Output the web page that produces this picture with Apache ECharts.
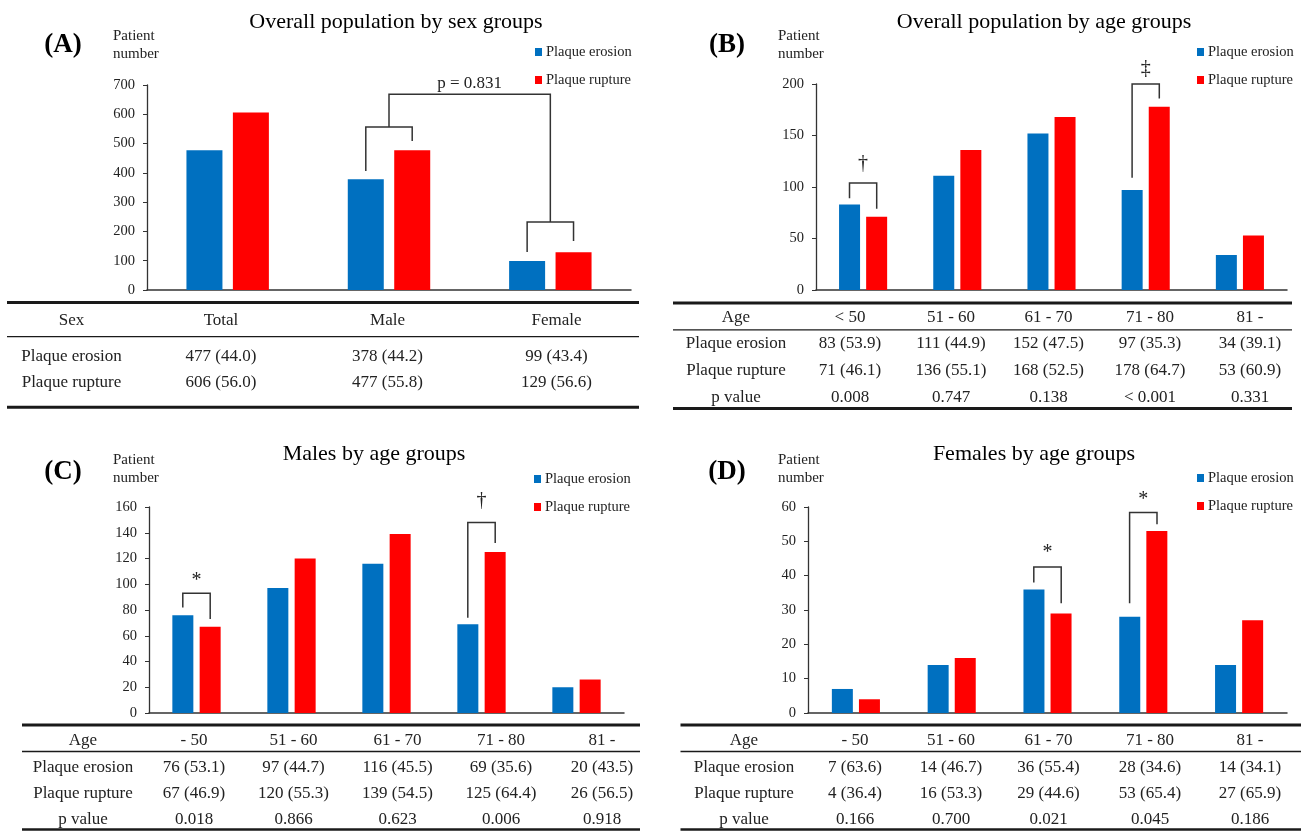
<!DOCTYPE html>
<html><head><meta charset="utf-8">
<script src="https://cdn.jsdelivr.net/npm/echarts@6.0.0/dist/echarts.min.js"></script>
<style>html,body{margin:0;padding:0;background:#fff}#c{width:1306px;height:831px}</style>
</head><body><div id="c"></div>
<script>
// ---------- DATA ----------
const seriesNames = ['Plaque erosion', 'Plaque rupture'];

// (A) overall population by sex
const sexCategories = ['Total', 'Male', 'Female'];
const sexErosion = [477, 378, 99];
const sexRupture = [606, 477, 129];
const sexErosionPct = ['44.0', '44.2', '43.4'];
const sexRupturePct = ['56.0', '55.8', '56.6'];
const sexYTicks = [0, 700, 100];

// (B) overall population by age
const ageCatsB = ['< 50', '51 - 60', '61 - 70', '71 - 80', '81 -'];
const ageErosionB = [83, 111, 152, 97, 34];
const ageRuptureB = [71, 136, 168, 178, 53];
const agePctErosionB = ['53.9', '44.9', '47.5', '35.3', '39.1'];
const agePctRuptureB = ['46.1', '55.1', '52.5', '64.7', '60.9'];
const agePB = ['0.008', '0.747', '0.138', '< 0.001', '0.331'];
const yTicksB = [0, 200, 50];

// (C) males by age
const ageCatsC = ['- 50', '51 - 60', '61 - 70', '71 - 80', '81 -'];
const ageErosionC = [76, 97, 116, 69, 20];
const ageRuptureC = [67, 120, 139, 125, 26];
const agePctErosionC = ['53.1', '44.7', '45.5', '35.6', '43.5'];
const agePctRuptureC = ['46.9', '55.3', '54.5', '64.4', '56.5'];
const agePC = ['0.018', '0.866', '0.623', '0.006', '0.918'];
const yTicksC = [0, 160, 20];

// (D) females by age
const ageCatsD = ['- 50', '51 - 60', '61 - 70', '71 - 80', '81 -'];
const ageErosionD = [7, 14, 36, 28, 14];
const ageRuptureD = [4, 16, 29, 53, 27];
const agePctErosionD = ['63.6', '46.7', '55.4', '34.6', '34.1'];
const agePctRuptureD = ['36.4', '53.3', '44.6', '65.4', '65.9'];
const agePD = ['0.166', '0.700', '0.021', '0.045', '0.186'];
const yTicksD = [0, 60, 10];

// brackets: [cat1, side1, startValue, topValue, cat2, side2, endValue]
const bracketsA = [[1, -1, 406, 557, 1, 1, 509], [2, -1, 130, 232, 2, 1, 167], [1, 0, 557, 668, 2, 0, 232]];
const bracketsB = [[0, -1, 89, 104, 0, 1, 79], [3, -1, 109, 200, 3, 1, 186]];
const bracketsC = [[0, -1, 82, 93, 0, 1, 73], [3, -1, 74, 148, 3, 1, 132]];
const bracketsD = [[2, -1, 38, 42.5, 2, 1, 32], [3, -1, 32, 58.4, 3, 1, 55]];
// significance marks: [cat, value, shiftInBands]
const marksA = [[1, 705, 0.5]];
const marksAText = ['p = 0.831'];
const marksB = [[0, 123, 0], [3, 215, 0]];
const marksBText = ['†', '‡'];
const marksC = [[0, 106, 0], [3, 165, 0]];
const marksCText = ['*', '†'];
const marksD = [[2, 47.7, 0], [3, 63.4, 0]];
const marksDText = ['*', '*'];

// ---------- STYLE / LAYOUT ----------
const FONT = "'Liberation Serif', 'Times New Roman', serif";
const BLUE = '#0070C0', RED = '#FF0000', INK = '#222';

const panels = [
  { cats: sexCategories, ero: sexErosion, rup: sexRupture, ticks: sexYTicks,
    grid: { left: 147, top: 85, width: 484, height: 205 }, barWidth: 36, barGap: '29%', off: 23.2,
    brackets: bracketsA, marks: marksA, markText: marksAText,
    legend: { left: 535, top: 44 } },
  { cats: ageCatsB, ero: ageErosionB, rup: ageRuptureB, ticks: yTicksB,
    grid: { left: 816, top: 84, width: 471, height: 206 }, barWidth: 21, barGap: '29%', off: 13.6,
    brackets: bracketsB, marks: marksB, markText: marksBText,
    legend: { left: 1197, top: 44 } },
  { cats: ageCatsC, ero: ageErosionC, rup: ageRuptureC, ticks: yTicksC,
    grid: { left: 149, top: 507, width: 475, height: 206 }, barWidth: 21, barGap: '30%', off: 13.7,
    brackets: bracketsC, marks: marksC, markText: marksCText,
    legend: { left: 534, top: 471 } },
  { cats: ageCatsD, ero: ageErosionD, rup: ageRuptureD, ticks: yTicksD,
    grid: { left: 808, top: 507, width: 479, height: 206 }, barWidth: 21, barGap: '29%', off: 13.7,
    brackets: bracketsD, marks: marksD, markText: marksDText,
    legend: { left: 1197, top: 470 } }
];

function bracketRender(off) {
  return function (params, api) {
    const c1 = api.value(0), s1 = api.value(1), v1 = api.value(2), vt = api.value(3);
    const c2 = api.value(4), s2 = api.value(5), v2 = api.value(6);
    const p1 = api.coord([c1, v1]), pt = api.coord([c1, vt]), p2 = api.coord([c2, v2]);
    const x1 = p1[0] + s1 * off, x2 = p2[0] + s2 * off;
    return { type: 'polyline', shape: { points: [[x1, p1[1]], [x1, pt[1]], [x2, pt[1]], [x2, p2[1]]] },
      style: { stroke: '#333', lineWidth: 1.5, fill: null } };
  };
}
function markRender(texts) {
  return function (params, api) {
    const p = api.coord([api.value(0), api.value(1)]);
    const band = api.size([1, 0])[0];
    const t = texts[params.dataIndex];
    const fs = t === '*' ? 20 : (t.length > 1 ? 17 : 20);
    const dy = t === '*' ? fs * 0.2 : 0;
    return { type: 'text', x: p[0] + api.value(2) * band, y: p[1] + dy,
      style: { text: t, fontSize: fs, fontFamily: FONT, fill: INK,
        align: 'center', verticalAlign: 'middle', textAlign: 'center', textVerticalAlign: 'middle' } };
  };
}

const option = { backgroundColor: '#fff', animation: false,
  grid: [], xAxis: [], yAxis: [], series: [], legend: [], graphic: [] };

panels.forEach((p, i) => {
  option.grid.push(Object.assign({ containLabel: false }, p.grid));
  option.xAxis.push({ type: 'category', gridIndex: i, data: p.cats,
    axisLine: { lineStyle: { color: '#333', width: 1.5 } }, axisTick: { show: false }, axisLabel: { show: false } });
  option.yAxis.push({ type: 'value', gridIndex: i, min: p.ticks[0], max: p.ticks[1], interval: p.ticks[2],
    axisLine: { show: true, lineStyle: { color: '#333', width: 1.3 } },
    axisTick: { show: true, length: 4, lineStyle: { color: '#333' } },
    splitLine: { show: false },
    axisLabel: { fontFamily: FONT, fontSize: 14.5, color: INK, margin: 12 } });
  option.series.push({ type: 'bar', name: seriesNames[0], xAxisIndex: i, yAxisIndex: i, data: p.ero,
    barWidth: p.barWidth, barGap: p.barGap, itemStyle: { color: BLUE } });
  option.series.push({ type: 'bar', name: seriesNames[1], xAxisIndex: i, yAxisIndex: i, data: p.rup,
    barWidth: p.barWidth, barGap: p.barGap, itemStyle: { color: RED } });
  option.series.push({ type: 'custom', xAxisIndex: i, yAxisIndex: i, data: p.brackets, silent: true, clip: false,
    encode: { x: 0, y: 2 }, renderItem: bracketRender(p.off), z: 5 });
  option.series.push({ type: 'custom', xAxisIndex: i, yAxisIndex: i, data: p.marks, silent: true, clip: false,
    encode: { x: 0, y: 1 }, renderItem: markRender(p.markText), z: 5 });
  option.legend.push({ data: seriesNames, orient: 'vertical', left: p.legend.left, top: p.legend.top,
    padding: 0, itemGap: 12, itemWidth: 7, itemHeight: 8, icon: 'rect', selectedMode: false,
    textStyle: { fontFamily: FONT, fontSize: 14.5, color: INK, lineHeight: 16, padding: [0, 0, 0, -1] } });
});

// Titles, panel letters, axis names
function txt(x, y, s, size, extra) {
  return Object.assign({ type: 'text', x: x, y: y, silent: true,
    style: Object.assign({ text: s, fontFamily: FONT, fontSize: size, fill: '#000',
      textAlign: 'center', textVerticalAlign: 'middle' }, extra || {}) });
}
const titles = [
  ['Overall population by sex groups', 396, 22], ['Overall population by age groups', 1044, 22],
  ['Males by age groups', 374, 454], ['Females by age groups', 1034, 454]];
titles.forEach(t => option.graphic.push(txt(t[1], t[2], t[0], 22)));
[['(A)', 63, 45], ['(B)', 727, 45], ['(C)', 63, 472], ['(D)', 727, 472]].forEach(t =>
  option.graphic.push(txt(t[1], t[2], t[0], 27, { fontWeight: 'bold' })));
[[113, 45], [778, 45], [113, 469], [778, 469]].forEach(t =>
  option.graphic.push(txt(t[0], t[1], 'Patient\nnumber', 15, { textAlign: 'left', lineHeight: 18, fill: INK })));

// Tables
function hline(x1, x2, y, w) {
  return { type: 'line', silent: true, shape: { x1: x1, y1: y, x2: x2, y2: y }, style: { stroke: '#1a1a1a', lineWidth: w } };
}
function table(t) {
  t.lines.forEach(l => option.graphic.push(hline(t.left, t.right, l[0], l[1])));
  option.graphic.push(txt(t.colX[0], t.rowY[0], t.head, 17, { fill: INK }));
  t.cats.forEach((c, j) => option.graphic.push(txt(t.colX[j + 1], t.rowY[0], c, 17, { fill: INK })));
  t.rows.forEach((r, k) => {
    option.graphic.push(txt(t.colX[0], t.rowY[k + 1], r[0], 17, { fill: INK }));
    r[1].forEach((v, j) => option.graphic.push(txt(t.colX[j + 1], t.rowY[k + 1],
      r[2] ? v + ' (' + r[2][j] + ')' : v, 17, { fill: INK })));
  });
}
table({ left: 7, right: 639, lines: [[302.5, 3], [336.7, 1.3], [407.3, 3]], rowY: [321, 356.7, 382.3],
  colX: [71.5, 221, 387.5, 556.5], head: 'Sex', cats: sexCategories,
  rows: [[seriesNames[0], sexErosion, sexErosionPct], [seriesNames[1], sexRupture, sexRupturePct]] });
table({ left: 673, right: 1292, lines: [[303, 3], [329.8, 1.3], [408.5, 3]], rowY: [317.5, 343.3, 370.7, 397.3],
  colX: [736, 850, 951, 1048.5, 1150, 1250], head: 'Age', cats: ageCatsB,
  rows: [[seriesNames[0], ageErosionB, agePctErosionB], [seriesNames[1], ageRuptureB, agePctRuptureB], ['p value', agePB, null]] });
table({ left: 22, right: 640, lines: [[725, 3], [751.5, 1.3], [829.6, 2.5]], rowY: [740.7, 767.7, 794, 819.3],
  colX: [83, 194, 293.5, 397.5, 501, 602], head: 'Age', cats: ageCatsC,
  rows: [[seriesNames[0], ageErosionC, agePctErosionC], [seriesNames[1], ageRuptureC, agePctRuptureC], ['p value', agePC, null]] });
table({ left: 680.5, right: 1301, lines: [[725, 3], [751.5, 1.3], [829.6, 2.5]], rowY: [740.7, 767.7, 794, 819.3],
  colX: [744, 855, 951, 1048.5, 1150, 1250], head: 'Age', cats: ageCatsD,
  rows: [[seriesNames[0], ageErosionD, agePctErosionD], [seriesNames[1], ageRuptureD, agePctRuptureD], ['p value', agePD, null]] });

const chart = echarts.init(document.getElementById('c'), null, { renderer: 'canvas', width: 1306, height: 831 });
chart.setOption(option);
</script></body></html>
